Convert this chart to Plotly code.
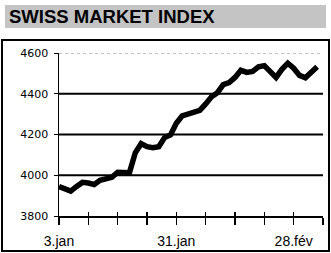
import plotly.graph_objects as go

# Swiss Market Index, trading days from 3 Jan to early March
smi_values = [3945, 3935, 3922, 3945, 3965, 3962, 3955, 3975, 3985, 3990,
              4015, 4015, 4012, 4110, 4155, 4140, 4135, 4140, 4185, 4198,
              4255, 4292, 4302, 4310, 4318, 4350, 4385, 4405, 4445, 4455,
              4480, 4515, 4505, 4510, 4532, 4538, 4505, 4480, 4520, 4550,
              4525, 4490, 4478, 4510, 4532]
day_index = list(range(len(smi_values)))
week_ticks = list(range(0, 46, 5))
week_labels = ["3.jan", "", "", "", "31.jan", "", "", "", "28.fév", ""]
y_ticks = [3800, 4000, 4200, 4400, 4600]
title_text = "SWISS MARKET INDEX"

fig = go.Figure()
fig.add_trace(go.Scatter(x=day_index, y=smi_values, mode="lines",
                         line=dict(color="black", width=5.5, shape="linear"),
                         hoverinfo="skip", showlegend=False))
# invisible trace so the overlay axis (inside ticks) is drawn
fig.add_trace(go.Scatter(x=[0], y=[3800], xaxis="x2", mode="markers",
                         marker=dict(opacity=0), showlegend=False, hoverinfo="skip"))

fig.update_layout(
    width=331, height=253,
    margin=dict(l=59, r=8, t=53, b=37, autoexpand=False),
    paper_bgcolor="white", plot_bgcolor="white",
    xaxis=dict(range=[0, 45], tickmode="array", tickvals=week_ticks, ticktext=week_labels,
               ticks="outside", ticklen=7, tickwidth=1.5, tickcolor="black",
               showline=True, linecolor="black", linewidth=1.5, showgrid=False, zeroline=False,
               tickfont=dict(family="Liberation Sans, Arial", size=14, color="black"),
               ticklabelstandoff=5, automargin=False),
    xaxis2=dict(range=[0, 45], overlaying="x", tickmode="array", tickvals=week_ticks,
                ticks="inside", ticklen=4, tickwidth=1.5, tickcolor="black",
                showticklabels=False, showline=False, showgrid=False, zeroline=False,
                side="bottom", anchor="y", automargin=False),
    yaxis=dict(range=[3800, 4600], tickmode="array", tickvals=y_ticks,
               ticks="outside", ticklen=4, tickwidth=1, tickcolor="black",
               showline=True, linecolor="black", linewidth=1.5,
               showgrid=False, zeroline=False, automargin=False,
               tickfont=dict(family="DejaVu Sans", size=11, color="black"),
               ticklabelstandoff=3),
    font=dict(family="Liberation Sans", color="black"),
)

# horizontal gridlines
for yv in y_ticks[1:-1]:
    fig.add_shape(type="line", xref="paper", yref="y", x0=0, x1=1, y0=yv, y1=yv,
                  line=dict(color="black", width=1.8), layer="below")
fig.add_shape(type="line", xref="paper", yref="y", x0=0, x1=1, y0=4600, y1=4600,
              line=dict(color="#888888", width=1, dash="dot"), layer="below")

# outer frame
fig.add_shape(type="rect", xref="paper", yref="paper",
              x0=(2 - 59) / 264, x1=(329 - 59) / 264,
              y0=(216 - 251) / 163, y1=(216 - 40) / 163,
              line=dict(color="black", width=2), fillcolor="rgba(0,0,0,0)")

# title bar
fig.add_shape(type="rect", xref="paper", yref="paper",
              x0=(5 - 59) / 264, x1=(326 - 59) / 264,
              y0=(216 - 28) / 163, y1=(216 - 5) / 163,
              line=dict(width=0), fillcolor="#c4c4c4")
fig.add_annotation(text="<b>" + title_text + "</b>", xref="paper", yref="paper",
                   x=(7 - 59) / 264, y=(216 - 17) / 163, xanchor="left", yanchor="middle",
                   showarrow=False,
                   font=dict(family="Liberation Sans, Arial", size=18.5, color="black"))

fig.write_html("out.html", config={"displayModeBar": False, "staticPlot": True},
               post_script="document.body.style.margin='0';document.body.style.overflow='hidden';")
